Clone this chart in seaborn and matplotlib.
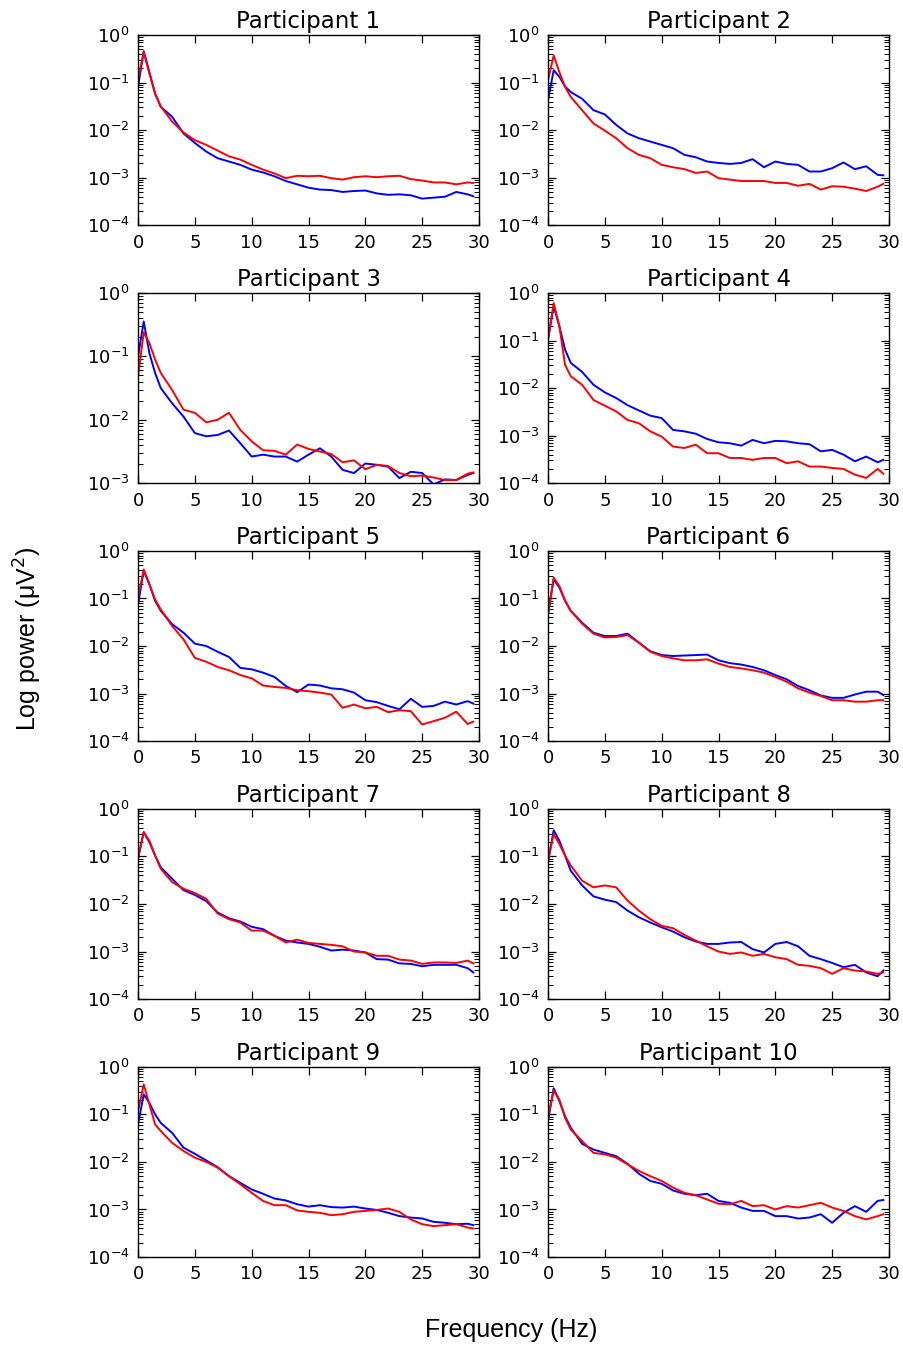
import numpy as np
import matplotlib
matplotlib.use("Agg")
import matplotlib.pyplot as plt
import seaborn as sns
from matplotlib.ticker import LogLocator, NullFormatter, FixedLocator

# Frequency bins (Hz)
freqs = [0, 0.5, 1, 1.5, 2, 3, 4, 5, 6, 7, 8, 9, 10, 11, 12, 13, 14, 15,
         16, 17, 18, 19, 20, 21, 22, 23, 24, 25, 26, 27, 28, 29, 29.5]

titles = ["Participant %d" % i for i in range(1, 11)]

# log10 of power (uV^2)
p1_blue = [-1.09, -0.34, -0.78, -1.23, -1.51, -1.72, -2.07, -2.27, -2.45, -2.59, -2.66, -2.73, -2.83, -2.89, -2.97, -3.07, -3.14, -3.21, -3.25, -3.26, -3.30, -3.28, -3.27, -3.33, -3.36, -3.35, -3.37, -3.44, -3.42, -3.40, -3.30, -3.35, -3.39]
p1_red = [-0.92, -0.36, -0.81, -1.23, -1.50, -1.82, -2.05, -2.21, -2.31, -2.43, -2.55, -2.62, -2.73, -2.83, -2.91, -3.01, -2.96, -2.97, -2.96, -3.01, -3.04, -2.99, -2.97, -2.99, -2.97, -2.96, -3.03, -3.06, -3.10, -3.10, -3.14, -3.10, -3.11]
p2_blue = [-1.37, -0.74, -0.88, -1.08, -1.20, -1.34, -1.58, -1.67, -1.89, -2.07, -2.17, -2.24, -2.31, -2.38, -2.52, -2.57, -2.66, -2.69, -2.71, -2.69, -2.61, -2.78, -2.66, -2.71, -2.73, -2.87, -2.87, -2.80, -2.68, -2.82, -2.76, -2.94, -2.95]
p2_red = [-0.95, -0.43, -0.78, -1.09, -1.30, -1.58, -1.86, -2.01, -2.17, -2.38, -2.52, -2.59, -2.73, -2.78, -2.82, -2.90, -2.87, -3.01, -3.04, -3.07, -3.07, -3.07, -3.11, -3.11, -3.17, -3.13, -3.25, -3.18, -3.19, -3.23, -3.28, -3.19, -3.13]
p3_blue = [-1.00, -0.45, -0.95, -1.26, -1.50, -1.74, -1.95, -2.21, -2.26, -2.24, -2.17, -2.37, -2.58, -2.55, -2.58, -2.58, -2.66, -2.55, -2.45, -2.58, -2.79, -2.84, -2.69, -2.71, -2.74, -2.92, -2.82, -2.84, -3.02, -2.94, -2.95, -2.87, -2.84]
p3_red = [-1.32, -0.62, -0.79, -1.05, -1.26, -1.53, -1.84, -1.89, -2.04, -2.00, -1.89, -2.16, -2.34, -2.48, -2.49, -2.55, -2.39, -2.46, -2.50, -2.54, -2.67, -2.64, -2.78, -2.71, -2.73, -2.84, -2.89, -2.88, -2.91, -2.95, -2.95, -2.85, -2.83]
p4_blue = [-0.98, -0.28, -0.70, -1.19, -1.47, -1.66, -1.93, -2.09, -2.21, -2.36, -2.47, -2.58, -2.63, -2.88, -2.91, -2.96, -3.07, -3.14, -3.16, -3.21, -3.09, -3.16, -3.11, -3.12, -3.16, -3.18, -3.33, -3.30, -3.40, -3.54, -3.44, -3.56, -3.51]
p4_red = [-0.98, -0.21, -0.70, -1.51, -1.75, -1.93, -2.25, -2.37, -2.49, -2.67, -2.74, -2.91, -3.02, -3.23, -3.26, -3.19, -3.37, -3.37, -3.47, -3.47, -3.51, -3.47, -3.47, -3.58, -3.54, -3.65, -3.65, -3.68, -3.70, -3.82, -3.89, -3.70, -3.80]
p5_blue = [-1.12, -0.42, -0.70, -1.05, -1.26, -1.54, -1.72, -1.95, -2.00, -2.12, -2.23, -2.46, -2.49, -2.56, -2.65, -2.84, -2.97, -2.81, -2.83, -2.89, -2.91, -2.98, -3.14, -3.18, -3.26, -3.33, -3.11, -3.28, -3.26, -3.17, -3.23, -3.16, -3.21]
p5_red = [-0.98, -0.39, -0.70, -1.02, -1.23, -1.58, -1.86, -2.25, -2.33, -2.44, -2.51, -2.61, -2.68, -2.83, -2.86, -2.88, -2.93, -2.95, -2.98, -3.02, -3.30, -3.23, -3.31, -3.28, -3.39, -3.35, -3.37, -3.65, -3.58, -3.51, -3.38, -3.64, -3.59]
p6_blue = [-1.33, -0.60, -0.77, -1.05, -1.26, -1.51, -1.72, -1.79, -1.79, -1.74, -1.93, -2.11, -2.19, -2.21, -2.20, -2.19, -2.18, -2.30, -2.36, -2.39, -2.44, -2.51, -2.61, -2.70, -2.84, -2.93, -3.04, -3.09, -3.09, -3.02, -2.96, -2.96, -3.03]
p6_red = [-1.33, -0.56, -0.74, -1.04, -1.26, -1.53, -1.74, -1.82, -1.81, -1.77, -1.93, -2.12, -2.21, -2.26, -2.30, -2.30, -2.28, -2.37, -2.44, -2.47, -2.51, -2.56, -2.65, -2.75, -2.89, -2.98, -3.05, -3.14, -3.14, -3.17, -3.17, -3.14, -3.14]
p7_blue = [-1.05, -0.49, -0.70, -0.98, -1.23, -1.47, -1.71, -1.81, -1.94, -2.18, -2.30, -2.37, -2.48, -2.53, -2.67, -2.77, -2.81, -2.84, -2.90, -2.98, -2.96, -2.98, -3.02, -3.16, -3.17, -3.25, -3.26, -3.31, -3.28, -3.28, -3.28, -3.35, -3.44]
p7_red = [-1.02, -0.49, -0.67, -0.98, -1.26, -1.54, -1.68, -1.77, -1.89, -2.20, -2.32, -2.39, -2.56, -2.56, -2.67, -2.81, -2.75, -2.82, -2.84, -2.86, -2.89, -3.00, -3.02, -3.09, -3.09, -3.17, -3.19, -3.26, -3.23, -3.23, -3.24, -3.19, -3.25]
p8_blue = [-1.12, -0.45, -0.67, -0.98, -1.30, -1.61, -1.84, -1.91, -1.96, -2.14, -2.28, -2.39, -2.49, -2.58, -2.70, -2.79, -2.84, -2.84, -2.81, -2.80, -2.95, -3.02, -2.84, -2.80, -2.89, -3.09, -3.16, -3.24, -3.33, -3.28, -3.44, -3.52, -3.40]
p8_red = [-1.09, -0.53, -0.74, -0.98, -1.19, -1.51, -1.65, -1.61, -1.65, -1.93, -2.14, -2.32, -2.46, -2.51, -2.65, -2.77, -2.89, -3.00, -3.05, -3.02, -3.09, -3.05, -3.12, -3.16, -3.28, -3.30, -3.35, -3.47, -3.35, -3.40, -3.42, -3.47, -3.44]
p9_blue = [-1.21, -0.58, -0.76, -1.00, -1.18, -1.39, -1.70, -1.83, -1.97, -2.11, -2.30, -2.44, -2.58, -2.67, -2.77, -2.81, -2.89, -2.94, -2.91, -2.95, -2.96, -2.94, -2.98, -3.01, -3.07, -3.14, -3.17, -3.19, -3.26, -3.28, -3.31, -3.30, -3.33]
p9_red = [-0.93, -0.37, -0.79, -1.21, -1.35, -1.60, -1.77, -1.91, -2.00, -2.12, -2.30, -2.47, -2.65, -2.82, -2.91, -2.91, -3.02, -3.05, -3.07, -3.12, -3.10, -3.05, -3.03, -3.01, -2.98, -3.05, -3.21, -3.31, -3.35, -3.33, -3.31, -3.38, -3.40]
p10_blue = [-1.14, -0.45, -0.72, -1.04, -1.28, -1.62, -1.74, -1.81, -1.88, -2.04, -2.25, -2.40, -2.46, -2.60, -2.67, -2.70, -2.67, -2.82, -2.86, -2.96, -3.03, -3.03, -3.14, -3.14, -3.19, -3.17, -3.10, -3.28, -3.07, -2.93, -3.05, -2.82, -2.80]
p10_red = [-1.04, -0.50, -0.69, -1.07, -1.32, -1.56, -1.81, -1.84, -1.91, -2.05, -2.19, -2.30, -2.40, -2.54, -2.65, -2.70, -2.79, -2.88, -2.89, -2.82, -2.93, -2.91, -3.00, -2.93, -2.96, -2.91, -2.86, -2.96, -3.03, -3.14, -3.21, -3.14, -3.10]

blue_series = [p1_blue, p2_blue, p3_blue, p4_blue, p5_blue, p6_blue, p7_blue, p8_blue, p9_blue, p10_blue]
red_series = [p1_red, p2_red, p3_red, p4_red, p5_red, p6_red, p7_red, p8_red, p9_red, p10_red]
y_bottom_exp = [-4, -4, -3, -4, -4, -4, -4, -4, -4, -4]

plt.rcParams.update({
    "font.family": ["DejaVu Sans"],
    "text.color": "black",
    "axes.labelcolor": "black",
    "axes.edgecolor": "black",
    "axes.linewidth": 1.0,
    "axes.facecolor": "white",
    "figure.facecolor": "white",
    "axes.grid": False,
    "xtick.direction": "in",
    "ytick.direction": "in",
    "xtick.top": True,
    "xtick.bottom": True,
    "ytick.left": True,
    "ytick.right": True,
    "xtick.major.size": 6,
    "ytick.major.size": 6,
    "ytick.minor.size": 3.5,
    "xtick.major.width": 0.9,
    "ytick.major.width": 0.9,
    "ytick.minor.width": 0.7,
    "xtick.color": "black",
    "ytick.color": "black",
})

fig, axes = plt.subplots(5, 2, figsize=(9.04, 13.47), dpi=100)
fig.subplots_adjust(left=0.1527, right=0.9834, top=0.974, bottom=0.0668,
                    wspace=0.2023, hspace=0.356)

for i, ax in enumerate(axes.flat):
    ax.set_yscale("log")
    sns.lineplot(x=freqs, y=10 ** np.array(blue_series[i]), ax=ax,
                 color="#0000ff", lw=1.4)
    sns.lineplot(x=freqs, y=10 ** np.array(red_series[i]), ax=ax,
                 color="#ff0000", lw=1.4)
    lo = y_bottom_exp[i]
    ax.set_xlim(0, 30)
    ax.set_ylim(10.0 ** lo, 1)
    ax.set_xticks([0, 5, 10, 15, 20, 25, 30])
    ax.yaxis.set_major_locator(LogLocator(base=10, numticks=10))
    minor = [m * 10.0 ** e for e in range(lo, 0) for m in range(2, 10)]
    ax.yaxis.set_minor_locator(FixedLocator(minor))
    ax.yaxis.set_minor_formatter(NullFormatter())
    ax.tick_params(axis="both", which="major", labelsize=13, pad=6)
    ax.set_title(titles[i], fontsize=16.5, pad=5, color="black")
    ax.set_xlabel("")
    ax.set_ylabel("")

fig.text(0.031, 0.526, "Log power (\u03bcV$^2$)", rotation=90, ha="center", va="center",
         fontsize=18, family=["Liberation Sans", "DejaVu Sans"])
fig.text(0.566, 0.0125, "Frequency (Hz)", ha="center", va="center",
         fontsize=18, family=["Liberation Sans", "DejaVu Sans"])

fig.savefig("out.png", dpi=100, facecolor="white")
